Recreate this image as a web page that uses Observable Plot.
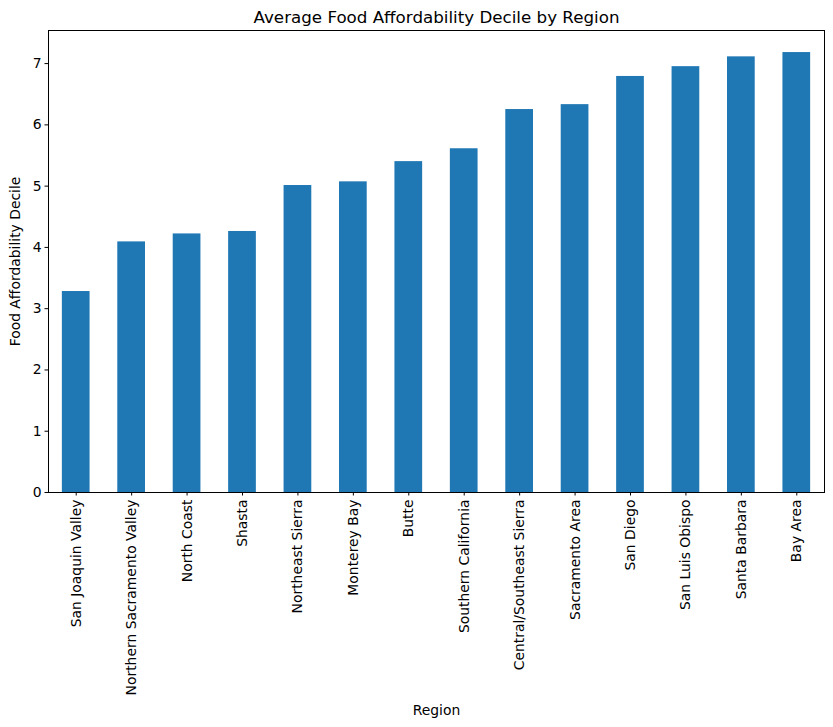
<!DOCTYPE html>
<html>
<head>
<meta charset="utf-8">
<script src="https://cdn.jsdelivr.net/npm/d3@7"></script>
<script src="https://cdn.jsdelivr.net/npm/@observablehq/plot@0.6"></script>
<style>
  body { margin: 0; background: #fff; }
  svg { font-family: "DejaVu Sans", sans-serif; }
</style>
</head>
<body>
<div id="chart"></div>
<script>
const regions = ["San Joaquin Valley", "Northern Sacramento Valley", "North Coast", "Shasta", "Northeast Sierra", "Monterey Bay", "Butte", "Southern California", "Central/Southeast Sierra", "Sacramento Area", "San Diego", "San Luis Obispo", "Santa Barbara", "Bay Area"];
const deciles = [3.28, 4.09, 4.22, 4.26, 5.01, 5.07, 5.40, 5.61, 6.25, 6.33, 6.79, 6.95, 7.11, 7.18];
const yTicks = [0, 1, 2, 3, 4, 5, 6, 7];
const titleText = "Average Food Affordability Decile by Region";

const data = regions.map((r, i) => ({region: r, value: deciles[i]}));

const chart = Plot.plot({
  width: 833,
  height: 727,
  marginLeft: 48,
  marginRight: 9,
  marginTop: 30,
  marginBottom: 235,
  style: {fontFamily: "DejaVu Sans, sans-serif", fontSize: "13.9px", color: "#000", background: "#fff"},
  x: {domain: regions, paddingInner: 0.5, paddingOuter: 0.25, round: false},
  y: {domain: [0, 7.54]},
  marks: [
    Plot.barY(data, {x: "region", y: "value", fill: "#1f77b4"}),
    Plot.frame({stroke: "#000", strokeWidth: 1}),
    Plot.axisY({ticks: yTicks, tickSize: 3.5, tickPadding: 3.5, tickFormat: d => String(d), fontSize: 13.9, label: "Food Affordability Decile", labelAnchor: "center", labelArrow: "none", labelOffset: 38}),
    Plot.axisX({tickSize: 3.5, tickPadding: 3.5, tickRotate: -90, fontSize: 13.9, label: "Region", labelAnchor: "center", labelArrow: "none", labelOffset: 222}),
    Plot.text([titleText], {text: d => d, frameAnchor: "top", dy: -19, fontSize: 16.7, fill: "#000"})
  ]
});
document.getElementById("chart").appendChild(chart);
</script>
</body>
</html>
